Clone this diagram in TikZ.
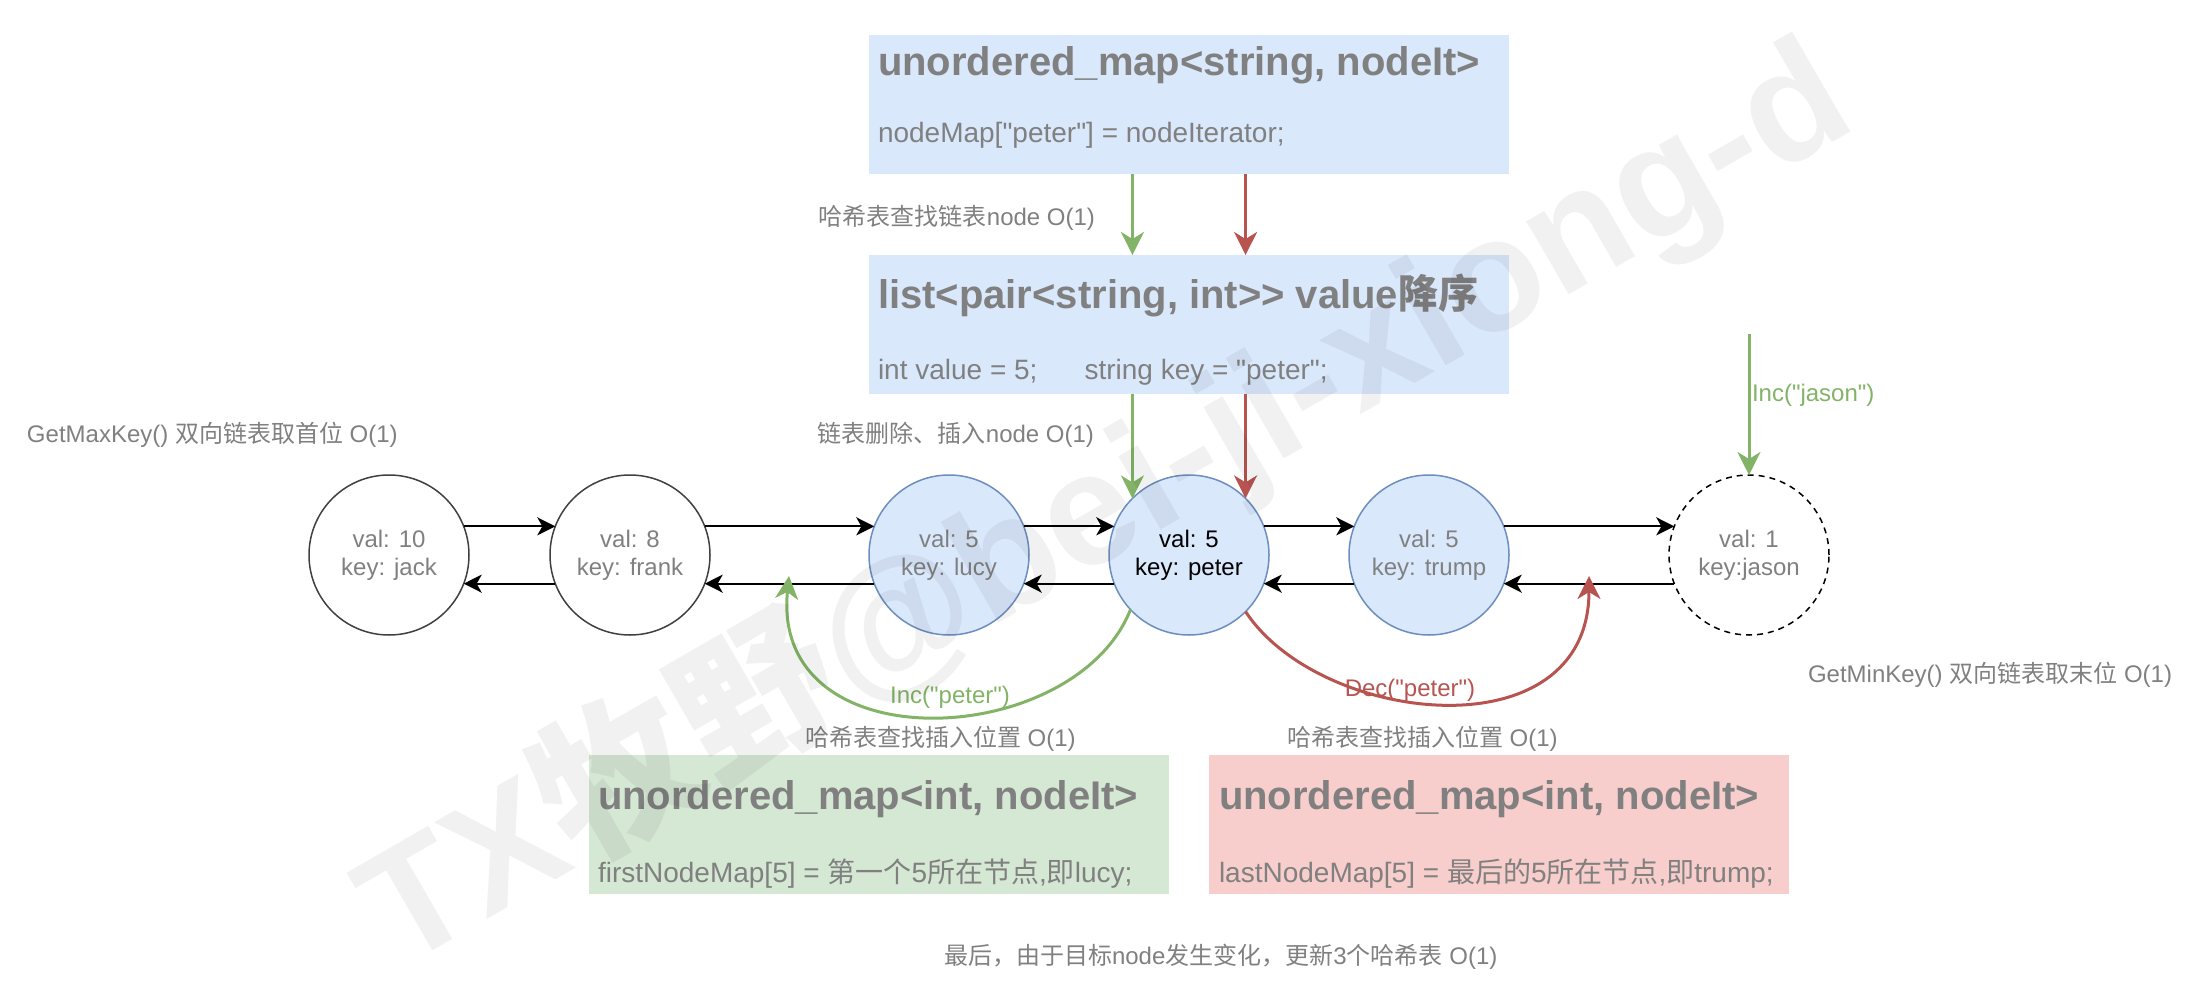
\documentclass[tikz,border=0pt]{standalone}
\usepackage{fontspec}
\setmainfont{Liberation Sans}[Ligatures=TeXOff]
\newfontfamily\cjk{Noto Sans CJK SC}
\usepackage{tikz}
\usetikzlibrary{arrows.meta}
\definecolor{txtgray}{HTML}{808080}
\definecolor{bluefill}{HTML}{DAE8FC}
\definecolor{bluedraw}{HTML}{6C8EBF}
\definecolor{greenfill}{HTML}{D5E8D4}
\definecolor{greendraw}{HTML}{82B366}
\definecolor{redfill}{HTML}{F8CECC}
\definecolor{reddraw}{HTML}{B85450}
\newcommand{\zh}[1]{{\cjk #1}}

\begin{document}
\begin{tikzpicture}[x=1pt, y=-1pt,
  every node/.style={inner sep=0pt, outer sep=0pt, text=txtgray},
  lbl/.style={font=\fontsize{24}{28}\selectfont},
  title/.style={anchor=base west, font=\fontsize{40}{48}\selectfont\bfseries},
  code/.style={anchor=base west, font=\fontsize{28}{34}\selectfont},
  box/.style={rectangle, minimum height=139pt},
  lnode/.style={circle, draw=black!75, line width=1.5pt, minimum size=160pt, align=center, font=\fontsize{24}{28}\selectfont},
  hot/.style={lnode, fill=bluefill, draw=bluedraw},
  link/.style={-{Stealth[length=18pt, width=18pt, inset=5pt]}, line width=2pt},
  gpath/.style={-{Stealth[length=23pt, width=23pt, inset=7pt]}, line width=3pt, draw=greendraw},
  rpath/.style={gpath, draw=reddraw}]
\useasboundingbox (0,0) rectangle (2188,998);

\node[box, fill=bluefill, minimum width=640pt] (hmap) at (1189,104.5) {};
\node[title] (hmapT) at (878,75) {unordered\_map<string, nodeIt>};
\node[code] (hmapC) at (878,142) {nodeMap["peter"] = nodeIterator;};
\node[box, fill=bluefill, minimum width=640pt] (lst) at (1189,324.5) {};
\node[title] (lstT) at (878,308) {list<pair<string, int>{}> value\zh{降序}};
\node[code] (lstC) at (878,379) {int value = 5;\hspace{47pt}string key = "peter";};
\node[box, fill=greenfill, minimum width=580pt] (first) at (879,824.5) {};
\node[title] (firstT) at (598,809) {unordered\_map<int, nodeIt>};
\node[code] (firstC) at (598,882) {firstNodeMap[5] = \zh{第一个}5\zh{所在节点}{,}\zh{即}lucy;};
\node[box, fill=redfill, minimum width=580pt] (last) at (1499,824.5) {};
\node[title] (lastT) at (1219,809) {unordered\_map<int, nodeIt>};
\node[code] (lastC) at (1219,882) {lastNodeMap[5] = \zh{最后的}5\zh{所在节点}{,}\zh{即}trump;};

\node[lnode] (jack) at (389,555) {val: 10\\key: jack};
\node[lnode] (frank) at (630,555) {val: 8\\key: frank};
\node[hot] (lucy) at (949,555) {val: 5\\key: lucy};
\node[hot, text=black] (peter) at (1189,555) {val: 5\\key: peter};
\node[hot] (trump) at (1429,555) {val: 5\\key: trump};
\node[lnode, draw=black, dash pattern=on 6pt off 5pt] (jason) at (1749,555) {val: 1\\key:jason};

\draw[link] (jack.21) -- (frank.159);
\draw[link] (frank.201) -- (jack.339);
\draw[link] (frank.21) -- (lucy.159);
\draw[link] (lucy.201) -- (frank.339);
\draw[link] (lucy.21) -- (peter.159);
\draw[link] (peter.201) -- (lucy.339);
\draw[link] (peter.21) -- (trump.159);
\draw[link] (trump.201) -- (peter.339);
\draw[link] (trump.21) -- (jason.159);
\draw[link] (jason.201) -- (trump.339);

\draw[gpath] (peter.135 |- hmap.south) -- (peter.135 |- lst.north);
\draw[rpath] (peter.45 |- hmap.south) -- (peter.45 |- lst.north);
\draw[gpath] (peter.135 |- lst.south) -- (peter.135);
\draw[rpath] (peter.45 |- lst.south) -- (peter.45);

\coordinate (jasonIn) at (1749,334);
\draw[gpath] (jasonIn) -- (jason.north);
\node[lbl, anchor=base west, text=greendraw] (jasonL) at (1752,401.5) {Inc("jason")};

\coordinate (incTo) at (789,576);
\coordinate (decTo) at (1589,576);
\draw[gpath] (peter.223) .. controls (1075,750) and (770,765) .. (incTo);
\draw[rpath] (peter.315) .. controls (1320,725) and (1589,755) .. (decTo);
\node[lbl, anchor=base, text=greendraw] (incL) at (950,703) {Inc("peter")};
\node[lbl, anchor=base, text=reddraw] (decL) at (1410,696) {Dec("peter")};

\node[lbl, anchor=base east] (findL) at (1095,225.5) {\zh{哈希表查找链表}node O(1)};
\node[lbl, anchor=base east] (moveL) at (1094,442) {\zh{链表删除、插入}node O(1)};
\node[lbl, anchor=base west] (maxL) at (27,442) {GetMaxKey() \zh{双向链表取首位} O(1)};
\node[lbl, anchor=base west] (minL) at (1808,682) {GetMinKey() \zh{双向链表取末位} O(1)};
\node[lbl, anchor=base west] (posL) at (805,746) {\zh{哈希表查找插入位置} O(1)};
\node[lbl, anchor=base west] (posR) at (1287,746) {\zh{哈希表查找插入位置} O(1)};
\node[lbl, anchor=base west] (note) at (944,964.5) {\zh{最后，由于目标}node\zh{发生变化，更新}3\zh{个哈希表} O(1)};

\node[rotate=30, anchor=base, text=black, text opacity=0.055, font=\fontsize{160}{160}\selectfont\bfseries] (mark) at (1130,548) {TX\zh{牧野}@bei-ji-xiong-d};
\end{tikzpicture}
\end{document}
